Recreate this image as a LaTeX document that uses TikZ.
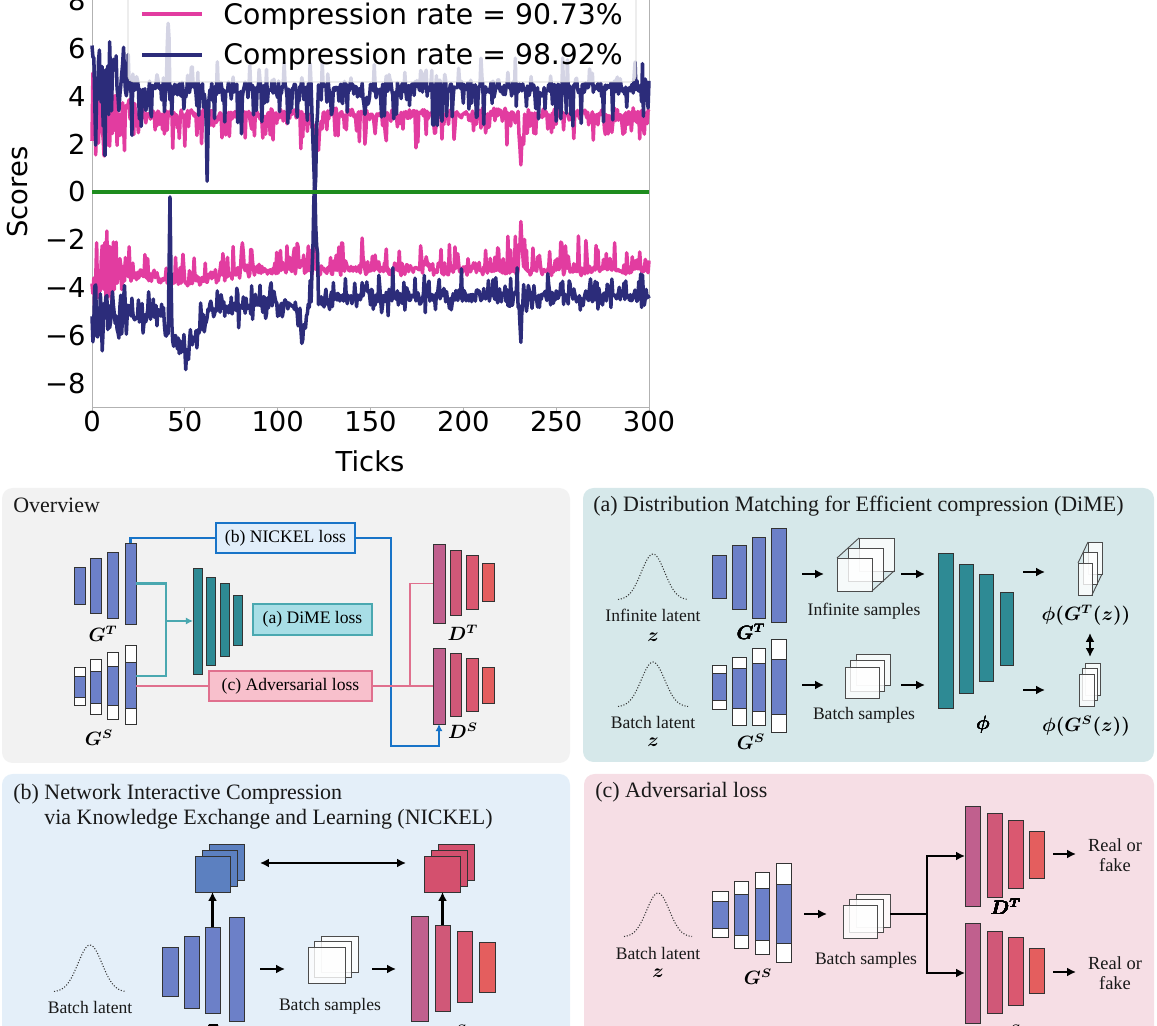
\documentclass[tikz,border=0pt]{standalone}
\usepackage{amsmath}
\usepackage{fontspec}
\setmainfont{Liberation Serif}
\newfontfamily\plotfont{DejaVu Sans}
\usetikzlibrary{arrows.meta}

\definecolor{ratepink}{RGB}{226,60,160}
\definecolor{ratenavy}{RGB}{44,44,122}
\definecolor{zerogreen}{RGB}{30,140,30}
\definecolor{ovfill}{RGB}{242,242,242}
\definecolor{dimefill}{RGB}{214,232,234}
\definecolor{nickfill}{RGB}{228,239,249}
\definecolor{advfill}{RGB}{246,222,229}
\definecolor{genblue}{RGB}{108,128,200}
\definecolor{tealnet}{RGB}{46,138,148}
\definecolor{disc1}{RGB}{192,96,142}
\definecolor{disc2}{RGB}{208,88,120}
\definecolor{disc3}{RGB}{218,88,112}
\definecolor{disc4}{RGB}{228,94,94}
\definecolor{nickblue}{RGB}{24,116,200}
\definecolor{nickbox}{RGB}{225,238,250}
\definecolor{dimeline}{RGB}{74,168,176}
\definecolor{dimebox}{RGB}{168,222,230}
\definecolor{advline}{RGB}{224,112,142}
\definecolor{advbox}{RGB}{248,192,204}
\definecolor{featblue}{RGB}{92,128,192}
\definecolor{featpink}{RGB}{212,80,110}

% one layer of a network, given by its corners in pixels
\newcommand{\netbar}[6]{\node[#2, minimum width={((#5)-(#3))*0.02cm}, minimum height={((#6)-(#4))*0.02cm}] (#1) at ({((#3)+(#5))/2},{((#4)+(#6))/2}) {};}
% pruned layer: white box with the kept part in blue
\newcommand{\stubar}[7]{\netbar{#1}{wbar}{#2}{#3}{#4}{#5}\netbar{#1m}{gbar}{#2}{#6}{#4}{#7}}
% three stacked frames, front one named #1
\newcommand{\samplestack}[8]{%
	\foreach \k in {2,1}{\netbar{#1\k}{#8}{(#2)+\k*(#6)}{(#3)+\k*(#7)}{(#4)+\k*(#6)}{(#5)+\k*(#7)}}%
	\netbar{#1}{#8}{#2}{#3}{#4}{#5}}
\newcommand{\stackedges}[1]{\draw[black!70, line width=0.5pt] (#1.north west) -- (#12.north west) (#1.south east) -- (#12.south east);}
% latent gaussian
\newcommand{\latentcurve}[4]{\draw[latent] plot[domain=-3:3, samples=41] ({#1+\x*(#2)/6}, {#3-(#4)*exp(-\x*\x/2)});}

\begin{document}
\begin{tikzpicture}[x=0.02cm, y=-0.02cm,
		gbar/.style={draw=black!80, fill=genblue, line width=0.5pt, inner sep=0pt, outer sep=0pt},
		wbar/.style={gbar, fill=white},
		tbar/.style={gbar, fill=tealnet},
		dbar1/.style={gbar, fill=disc1},
		dbar2/.style={gbar, fill=disc2},
		dbar3/.style={gbar, fill=disc3},
		dbar4/.style={gbar, fill=disc4},
		samp/.style={draw=black!70, fill=white, fill opacity=0.8, line width=0.5pt, inner sep=0pt, outer sep=0pt},
		fblue/.style={gbar, fill=featblue},
		fpink/.style={gbar, fill=featpink},
		arr/.style={line width=1.3pt, -{Latex[length=5pt, width=5pt]}},
		darr/.style={line width=1.3pt, {Latex[length=5pt, width=5pt]}-{Latex[length=5pt, width=5pt]}},
		thk/.style={line width=1.6pt},
		latent/.style={densely dotted, black!80, line width=0.6pt},
		lbl/.style={font=\fontsize{10}{11.5}\selectfont, inner sep=0pt, align=center, text=black!90},
		mlbl/.style={font=\fontsize{10.5}{12}\selectfont, inner sep=0pt},
		ttl/.style={font=\fontsize{12.5}{15}\selectfont, anchor=base west, inner sep=0pt, text=black!90},
		lossbox/.style={line width=1.2pt, inner sep=0pt, font=\fontsize{10}{12}\selectfont},
		nickline/.style={nickblue, line width=1.3pt},
		dimel/.style={dimeline, line width=1.2pt},
		advl/.style={advline, line width=1pt},
		tick/.style={font=\plotfont\fontsize{15.6}{18}\selectfont, inner sep=0pt},
		rateline/.style={line width=2pt, line join=round},
		panel/.style={rounded corners=6pt}
	]
	\useasboundingbox (0,0) rectangle (1157,1026);

	% score plot
	\begin{scope}[shift={(92,192)}, x=0.037133cm, y=0.478cm]
		\draw[black!30, line width=0.5pt] (0,-9) rectangle (300,9);
		\foreach \tk in {0,50,...,300} \draw[black!30] (\tk,-9) -- (\tk,-9.15);
		\pgfmathsetseed{11}
		\draw[rateline, ratepink] plot[domain=0:300, samples=601]
			(\x, {3.3 + 0.13*(rand+rand) - 1.4*pow(rnd,6) + 2.2*max(0,1-\x/28)*rand - 2.1*max(0,1-abs(\x-231)/1.5) - 1.2*max(0,1-abs(\x-121)/3)});
		\draw[rateline, ratepink] plot[domain=0:300, samples=601]
			(\x, {-3.3 - 0.5*max(0,1-abs(\x-50)/40) + 0.13*(rand+rand) + 1.3*pow(rnd,6) + 2.2*max(0,1-\x/28)*rand + 1.6*max(0,1-abs(\x-231)/1.5) + 1.3*max(0,1-abs(\x-81)/1.2)});
		\draw[rateline, ratenavy] plot[domain=0:300, samples=601]
			(\x, {4.4 + 0.15*(rand+rand) - 1.9*pow(rnd,6) + 1.2*pow(rnd,10) + 2.2*max(0,1-\x/28)*rand - 3.2*max(0,1-abs(\x-62)/1.2) - 4.4*max(0,1-abs(\x-120)/2) + 4*max(0,1-abs(\x-41)/1) - 1.0*max(0,1-abs(\x-147)/4)});
		\draw[rateline, ratenavy] plot[domain=0:300, samples=601]
			(\x, {-4.35 - 0.9*max(0,1-\x/160) - 1.9*max(0,1-abs(\x-50)/14) - 1.6*max(0,1-abs(\x-113)/4) + 0.2*(rand+rand) + 0.5*max(0,1-abs(\x-50)/14)*rand + 1.0*pow(rnd,6) - 0.7*pow(rnd,6) + 1.8*max(0,1-\x/25)*rand + 5.2*max(0,1-abs(\x-42)/1) + 4.6*max(0,1-abs(\x-120)/2) - 1.4*max(0,1-abs(\x-231)/1.5)});
		\draw[zerogreen, line width=2.6pt] (0,0) -- (300,0);
	\end{scope}
	\foreach \v [count=\i] in {0,50,...,300}
		\node[tick] (xt\i) at ({92+\v*1.8567},422) {\v};
	\foreach \v [count=\i] in {−8,−6,−4,−2,0,2,4,6,8}
		\node[tick, anchor=east] (yt\i) at (86,{192-(\i-5)*47.8}) {\v};
	\node[tick, rotate=90] (ylab) at (18,192) {Scores};
	\node[tick] (xlab) at (370,461) {Ticks};
	% legend
	\draw[black!20, fill=white, fill opacity=0.8, rounded corners=3pt] (128,-10) rectangle (636,82);
	\draw[ratepink, line width=1.8pt] (142,14) -- (202,14);
	\draw[ratenavy, line width=1.8pt] (142,55) -- (202,55);
	\node[tick, anchor=base west, font=\plotfont\fontsize{16.1}{18}\selectfont] (leg1) at (223,25) {Compression rate = 90.73\%};
	\node[tick, anchor=base west, font=\plotfont\fontsize{16.1}{18}\selectfont] (leg2) at (223,65) {Compression rate = 98.92\%};

	% overview
	\fill[ovfill, panel] (2,488) rectangle (570,763);
	\node[ttl] (ovt) at (13,513) {Overview};
	\foreach \n/\a/\b/\c/\d in {1/74/567/85/604, 2/90/558/101/613, 3/107/552/118/618, 4/125/543/136/624}
		\netbar{oT\n}{gbar}{\a}{\b}{\c}{\d}
	\stubar{oS1}{74}{667}{85}{705}{676}{697}
	\stubar{oS2}{90}{659}{101}{714}{671}{703}
	\stubar{oS3}{107}{652}{118}{719}{666}{705}
	\stubar{oS4}{125}{645}{136}{724}{662}{708}
	\foreach \n/\a/\b/\c/\d in {1/193/568/202/674, 2/206/577/215/665, 3/220/583/229/656, 4/233/595/242/645}
		\netbar{oP\n}{tbar}{\a}{\b}{\c}{\d}
	\foreach \n/\a/\b/\c/\d in {1/433/544/445/623, 2/450/550/461/615, 3/466/555/478/609, 4/482/563/494/601}
		\netbar{oDT\n}{dbar\n}{\a}{\b}{\c}{\d}
	\foreach \n/\a/\b/\c/\d in {1/433/648/445/724, 2/450/653/461/716, 3/466/658/478/711, 4/482/667/494/703}
		\netbar{oDS\n}{dbar\n}{\a}{\b}{\c}{\d}
	\node[lossbox, draw=nickblue, fill=nickbox, minimum width=2.78cm, minimum height=0.6cm] (nick) at (285.5,538) {(b) NICKEL loss};
	\node[lossbox, draw=dimeline, fill=dimebox, minimum width=2.38cm, minimum height=0.62cm] (dime) at (312.5,619.5) {(a) DiME loss};
	\node[lossbox, draw=advline, fill=advbox, minimum width=3.26cm, minimum height=0.6cm] (adv) at (290.5,686) {(c) Adversarial loss};
	\draw[nickline] (oT4.north) |- (nick.west);
	\coordinate (nkc) at (391,746);
	\draw[nickline, -{Latex[length=4pt, width=4pt]}] (nick.east) -| (nkc) -| (oDS1.south);
	\coordinate (dj) at (166,621);
	\draw[dimel] (oT4.east) -| (dj);
	\draw[dimel] ([yshift=4.8pt]oS4.east) -| (dj);
	\draw[dimel, -{Latex[length=4pt, width=4pt]}] (dj) -- (oP1.west);
	\coordinate (aj) at (410,686);
	\draw[advl] (oS4.east |- adv.west) -- (adv.west);
	\draw[advl] (adv.east) -- (oDS1.west);
	\draw[advl] (aj) |- (oDT1.west);
	\node[mlbl] (oGT) at (103,634) {$\boldsymbol{G^{T}}$};
	\node[mlbl] (oGS) at (99,738) {$\boldsymbol{G^{S}}$};
	\node[mlbl] (oDTl) at (463,633) {$\boldsymbol{D^{T}}$};
	\node[mlbl] (oDSl) at (463,731) {$\boldsymbol{D^{S}}$};

	% (a) DiME
	\fill[dimefill, panel] (583,488) rectangle (1154,762);
	\node[ttl] (at) at (593,512) {(a) Distribution Matching for Efficient compression (DiME)};
	\latentcurve{653}{70}{600}{46}
	\latentcurve{653}{70}{707}{45}
	\node[lbl] (ainfl) at (653,615) {Infinite latent};
	\node[mlbl] (az1) at (653,637) {$\boldsymbol{z}$};
	\node[lbl] (abatl) at (653,722) {Batch latent};
	\node[mlbl] (az2) at (653,742) {$\boldsymbol{z}$};
	\foreach \n/\a/\b/\c/\d in {1/712/555/726/598, 2/732/545/746/609, 3/752/537/765/618, 4/771/528/786/622}
		\netbar{aT\n}{gbar}{\a}{\b}{\c}{\d}
	\stubar{aS1}{712}{665}{726}{709}{673}{700}
	\stubar{aS2}{732}{657}{746}{725}{668}{708}
	\stubar{aS3}{752}{648}{765}{725}{663}{711}
	\stubar{aS4}{771}{639}{786}{732}{659}{714}
	\node[mlbl] (aGT) at (751,632) {$\boldsymbol{G^{T}}$};
	\node[mlbl] (aGS) at (751,742) {$\boldsymbol{G^{S}}$};
	\samplestack{ainf}{837}{558}{872}{591}{11}{-10}{samp}
	\stackedges{ainf}
	\samplestack{abat}{845}{667}{879}{698}{5.5}{-6.5}{samp}
	\node[lbl] (ainfs) at (864,611) {Infinite samples};
	\node[lbl] (abats) at (864,715) {Batch samples};
	\foreach \n/\a/\b/\c/\d in {1/938/553/953/708, 2/959/564/973/693, 3/979/574/993/681, 4/1000/592/1013/665}
		\netbar{aP\n}{tbar}{\a}{\b}{\c}{\d}
	\node[mlbl] (aphi) at (983,725) {$\boldsymbol{\phi}$};
	\samplestack{afT}{1078}{563}{1092}{595}{5}{-10.5}{samp}
	\stackedges{afT}
	\samplestack{afS}{1079}{674}{1094}{706}{3}{-5.5}{samp}
	\node[mlbl] (afTl) at (1086,615) {$\boldsymbol{\phi(G^{T}(z))}$};
	\node[mlbl] (afSl) at (1086,726) {$\boldsymbol{\phi(G^{S}(z))}$};
	\foreach \n/\a/\b/\c in {1/802/824/574, 2/901/925/574, 3/802/824/685, 4/901/925/685, 5/1023/1045/572, 6/1023/1045/690}{
		\coordinate (aa\n) at (\a,\c);
		\coordinate (ab\n) at (\b,\c);
		\draw[arr] (aa\n) -- (ab\n);
	}
	\coordinate (ad1) at (1090,633);
	\coordinate (ad2) at (1090,657);
	\draw[darr] (ad1) -- (ad2);

	% (b) NICKEL
	\fill[nickfill, panel] (2,774) rectangle (570,1040);
	\node[ttl] (bt1) at (13,800) {(b) Network Interactive Compression};
	\node[ttl] (bt2) at (44,825) {via Knowledge Exchange and Learning (NICKEL)};
	\latentcurve{90}{72}{992}{47}
	\node[lbl] (bbatl) at (90,1007) {Batch latent};
	\node[mlbl] (bz) at (90,1031) {$\boldsymbol{z}$};
	\foreach \n/\a/\b/\c/\d in {1/162/947/178/996, 2/184/936/199/1008, 3/205/927/220/1013, 4/229/917/244/1021}
		\netbar{bT\n}{gbar}{\a}{\b}{\c}{\d}
	\foreach \n/\a/\b/\c/\d in {1/411/916/428/1021, 2/435/925/450/1011, 3/457/931/472/1002, 4/479/942/495/992}
		\netbar{bD\n}{dbar\n}{\a}{\b}{\c}{\d}
	\node[mlbl] (bGT) at (205,1033) {$\boldsymbol{G^{T}}$};
	\node[mlbl] (bDS) at (452,1033) {$\boldsymbol{D^{S}}$};
	\samplestack{bfT}{195}{856}{230}{892}{7}{-6}{fblue}
	\samplestack{bfS}{424}{856}{460}{892}{7}{-6}{fpink}
	\samplestack{bbat}{308}{947}{345}{983}{6.5}{-5.5}{samp}
	\node[lbl] (bbats) at (330,1006) {Batch samples};
	\draw[arr] (bT3.north) -- (bfT.south);
	\draw[arr] (bD2.north) -- (bD2.north |- bfS.south);
	\coordinate (bx1) at (260,863);
	\coordinate (bx2) at (406,863);
	\draw[darr] (bx1) -- (bx2);
	\coordinate (ba1) at (260,969);
	\coordinate (bb1) at (285,969);
	\coordinate (ba2) at (372,969);
	\coordinate (bb2) at (396,969);
	\draw[arr] (ba1) -- (bb1);
	\draw[arr] (ba2) -- (bb2);

	% (c) adversarial
	\fill[advfill, panel] (584,774) rectangle (1154,1040);
	\node[ttl] (ct) at (595,798) {(c) Adversarial loss};
	\latentcurve{658}{68}{937}{44}
	\node[lbl] (cbatl) at (658,953) {Batch latent};
	\node[mlbl] (cz) at (658,973) {$\boldsymbol{z}$};
	\stubar{cS1}{712}{891}{728}{937}{901}{928}
	\stubar{cS2}{734}{881}{748}{948}{894}{935}
	\stubar{cS3}{755}{872}{769}{954}{888}{940}
	\stubar{cS4}{776}{863}{791}{962}{884}{943}
	\node[mlbl] (cGS) at (758,977) {$\boldsymbol{G^{S}}$};
	\samplestack{cbat}{843}{905}{877}{938}{6.5}{-5.5}{samp}
	\node[lbl] (cbats) at (866,960) {Batch samples};
	\foreach \n/\a/\b/\c/\d in {1/965/806/980/906, 2/987/813/1002/897, 3/1008/820/1023/888, 4/1029/831/1044/878}
		\netbar{cDT\n}{dbar\n}{\a}{\b}{\c}{\d}
	\foreach \n/\a/\b/\c/\d in {1/965/923/980/1023, 2/987/931/1002/1013, 3/1008/937/1023/1005, 4/1029/948/1044/993}
		\netbar{cDS\n}{dbar\n}{\a}{\b}{\c}{\d}
	\node[mlbl] (cDTl) at (1006,907) {$\boldsymbol{D^{T}}$};
	\node[mlbl] (cDSl) at (1006,1033) {$\boldsymbol{D^{S}}$};
	\coordinate (ca) at (804,914);
	\coordinate (cb) at (827,914);
	\draw[arr] (ca) -- (cb);
	\coordinate (cj) at (927,914);
	\draw[thk] (cbat2.east |- cj) -- (cj);
	\draw[thk, -{Latex[length=5pt, width=5pt]}] (cj) |- (cDT1.west);
	\draw[thk, -{Latex[length=5pt, width=5pt]}] (cj) |- (cDS1.west);
	\coordinate (cr1) at (1053,854);
	\coordinate (cr2) at (1076,854);
	\coordinate (cr3) at (1053,972);
	\coordinate (cr4) at (1076,972);
	\draw[arr] (cr1) -- (cr2);
	\draw[arr] (cr3) -- (cr4);
	\node[lbl, font=\fontsize{10.5}{11.5}\selectfont] (crf1) at (1115,855) {Real or\\fake};
	\node[lbl, font=\fontsize{10.5}{11.5}\selectfont] (crf2) at (1115,973) {Real or\\fake};
\end{tikzpicture}
\end{document}
